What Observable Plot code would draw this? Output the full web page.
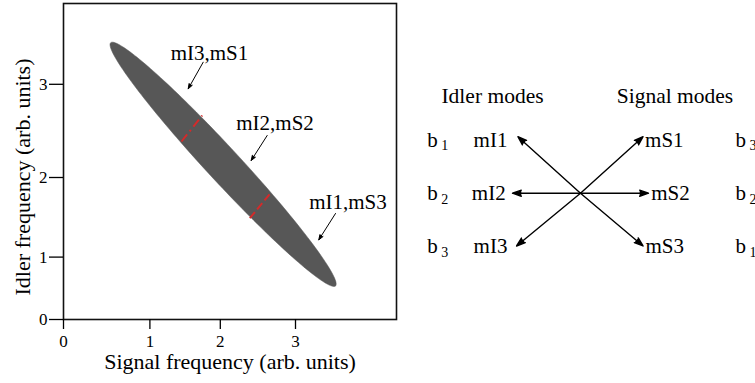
<!DOCTYPE html>
<html><head><meta charset="utf-8">
<script src="https://cdn.jsdelivr.net/npm/d3@7"></script>
<script src="https://cdn.jsdelivr.net/npm/@observablehq/plot@0.6"></script>
<style>
html,body{margin:0;padding:0;background:#fff;}
#wrap{display:flex;width:755px;height:383px;overflow:hidden;}
#wrap svg{display:block;flex:none;}
</style></head><body><div id="wrap"></div>
<script>
// ---------- left panel data (x and y in the same arbitrary units) ----------
const tickLabels = ["0", "1", "2", "3"];
const xTickPos = [0, 1.08, 1.96, 2.90];
const yTickPos = [0, 0.78, 1.775, 2.94];
const xTitle = "Signal frequency (arb. units)";
const yTitle = "Idler frequency (arb. units)";
const ellipseTips = [[0.59, 3.46], [3.40, 0.42]];
const ellipseHalfWidth = 0.21;
const cutA = [[1.475, 2.225], [1.734, 2.55]];
const cutB = [[2.329, 1.266], [2.5875, 1.579]];
const pairLabels = ["mI3,mS1", "mI2,mS2", "mI1,mS3"];
const pairLabelX = [1.825, 2.644, 3.556];
const pairLabelY = [3.325, 2.45, 1.466];
const pairArrowFrom = [[1.746, 3.216], [2.546, 2.30], [3.40, 1.325]];
const pairArrowTo = [[1.559, 2.884], [2.346, 1.9875], [3.191, 0.996]];

// ---------- right panel data (diagram units) ----------
const headers = ["Idler modes", "Signal modes"];
const headerX = [-1.294, 1.39];
const headerRow = 0.18;
const rows = [1, 2, 3];
const idlerModes = ["mI1", "mI2", "mI3"];
const signalModes = ["mS1", "mS2", "mS3"];
const idlerBeams = ["1", "2", "3"];
const signalBeams = ["3", "2", "1"];
const beamX = [-2.254, 2.279];
const idlerTextX = [-1.075, -1.10, -1.075];
const signalTextX = [0.95, 1.04, 0.955];
const crossing = [0, 2];
const idlerTips = [[-0.92, 0.94], [-1.0, 2], [-0.94, 2.99]];
const signalTips = [[0.92, 0.94], [1.0, 2], [0.92, 2.99]];

const FONT = '"Liberation Serif", "Times New Roman", serif';

// ellipse outline built from its two tips and half-width
const [[ax, ay], [bx, by]] = ellipseTips;
const cx = (ax + bx) / 2, cy = (ay + by) / 2;
const semiMajor = Math.hypot(bx - ax, by - ay) / 2;
const theta = Math.atan2(by - ay, bx - ax);
const outline = d3.range(0, 361, 2).map(deg => {
  const t = deg * Math.PI / 180;
  const u = semiMajor * Math.cos(t), v = ellipseHalfWidth * Math.sin(t);
  return {x: cx + u * Math.cos(theta) - v * Math.sin(theta),
          y: cy + u * Math.sin(theta) + v * Math.cos(theta)};
});

const left = Plot.plot({
  width: 410, height: 383,
  marginLeft: 63, marginRight: 14, marginTop: 3, marginBottom: 64,
  x: {domain: [0, 4.1625]},
  y: {domain: [0, 3.95]},
  style: {fontFamily: FONT, color: "#000", background: "#fff", overflow: "visible"},
  marks: [
    Plot.line(outline, {x: "x", y: "y", fill: "#575757", stroke: "#575757", strokeWidth: 0.5}),
    Plot.link([cutA], {x1: d => d[0][0], y1: d => d[0][1], x2: d => d[1][0], y2: d => d[1][1],
      stroke: "#d42a2a", strokeWidth: 2, strokeDasharray: "9,4,2,4"}),
    Plot.link([cutB], {x1: d => d[0][0], y1: d => d[0][1], x2: d => d[1][0], y2: d => d[1][1],
      stroke: "#d42a2a", strokeWidth: 2, strokeDasharray: "8,3.5"}),
    Plot.text(pairLabels, {x: (d, i) => pairLabelX[i], y: (d, i) => pairLabelY[i], text: d => d, fontSize: 21}),
    Plot.arrow(pairLabels, {x1: (d, i) => pairArrowFrom[i][0], y1: (d, i) => pairArrowFrom[i][1],
      x2: (d, i) => pairArrowTo[i][0], y2: (d, i) => pairArrowTo[i][1],
      stroke: "#000", fill: "#000", strokeWidth: 1, headLength: 8, headAngle: 40}),
    Plot.frame({stroke: "#111", strokeWidth: 1.6}),
    Plot.axisX(xTickPos, {tickFormat: d => tickLabels[xTickPos.indexOf(d)], tickSize: 10, tickPadding: 5,
      fontSize: 17, label: null, strokeWidth: 1.3}),
    Plot.axisY(yTickPos, {tickFormat: d => tickLabels[yTickPos.indexOf(d)], tickSize: 14, tickPadding: 2,
      fontSize: 17, label: null, strokeWidth: 1.3}),
    Plot.text([xTitle], {text: d => d, frameAnchor: "bottom", textAnchor: "middle", dy: 49, fontSize: 22}),
    Plot.text([yTitle], {text: d => d, frameAnchor: "left", textAnchor: "middle", rotate: -90, dx: -41, dy: 15.5, fontSize: 22})
  ]
});

const right = Plot.plot({
  width: 345, height: 383, margin: 0,
  x: {domain: [-2.5, 2.574], axis: null},
  y: {domain: [-1.615, 5.57], reverse: true, axis: null},
  style: {fontFamily: FONT, color: "#000", background: "#fff", overflow: "visible"},
  marks: [
    Plot.text(headers, {x: (d, i) => headerX[i], y: () => headerRow, text: d => d, fontSize: 21.5}),
    Plot.text(idlerModes, {x: (d, i) => idlerTextX[i], y: (d, i) => rows[i], text: d => d, textAnchor: "end", fontSize: 21}),
    Plot.text(signalModes, {x: (d, i) => signalTextX[i], y: (d, i) => rows[i], text: d => d, textAnchor: "start", fontSize: 21}),
    Plot.text(idlerBeams, {x: () => beamX[0], y: (d, i) => rows[i], text: () => "b", textAnchor: "start", fontSize: 21}),
    Plot.text(idlerBeams, {x: () => beamX[0], y: (d, i) => rows[i], text: d => d, textAnchor: "start", fontSize: 14, dx: 14, dy: 6}),
    Plot.text(signalBeams, {x: () => beamX[1], y: (d, i) => rows[i], text: () => "b", textAnchor: "start", fontSize: 21}),
    Plot.text(signalBeams, {x: () => beamX[1], y: (d, i) => rows[i], text: d => d, textAnchor: "start", fontSize: 14, dx: 14, dy: 6}),
    Plot.arrow(idlerModes, {x1: () => crossing[0], y1: () => crossing[1],
      x2: (d, i) => idlerTips[i][0], y2: (d, i) => idlerTips[i][1],
      stroke: "#000", fill: "#000", strokeWidth: 1.4, headLength: 10, headAngle: 38}),
    Plot.arrow(signalModes, {x1: () => crossing[0], y1: () => crossing[1],
      x2: (d, i) => signalTips[i][0], y2: (d, i) => signalTips[i][1],
      stroke: "#000", fill: "#000", strokeWidth: 1.4, headLength: 10, headAngle: 38})
  ]
});

document.getElementById("wrap").append(left, right);
</script>
</body></html>
